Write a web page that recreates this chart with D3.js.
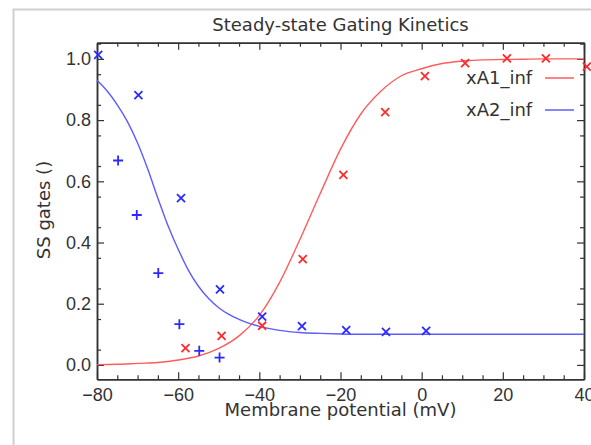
<!DOCTYPE html>
<html>
<head>
<meta charset="utf-8">
<script src="https://cdn.jsdelivr.net/npm/d3@7"></script>
<style>
  body { margin: 0; background: #fff; }
  svg { display: block; font-family: "DejaVu Sans", sans-serif; }
</style>
</head>
<body>
<div id="chart"></div>
<script>
// fitted curves
const v1 = [-80, -75, -70, -65, -60, -55, -50, -45, -40, -35, -30, -25, -20,
            -15, -10, -5, 0, 5, 10, 15, 20, 25, 30, 35, 40];
const xA1Inf = [0.001, 0.002, 0.005, 0.008, 0.016, 0.029, 0.054, 0.095, 0.162, 0.27, 0.41, 0.56, 0.705,
                0.82, 0.895, 0.945, 0.968, 0.985, 0.993, 0.997, 0.998, 0.999, 1.0, 1.0, 1.0];
const v2 = [-80, -77.5, -75, -72.5, -70, -67.5, -65, -62.5, -60, -57.5, -55, -52.5, -50,
            -47.5, -45, -42.5, -40, -35, -30, -25, -20, -15, 0, 20, 40];
const xA2Inf = [0.93, 0.895, 0.85, 0.795, 0.725, 0.64, 0.545, 0.455, 0.378, 0.31, 0.257, 0.217, 0.187,
                0.165, 0.149, 0.136, 0.126, 0.113, 0.106, 0.103, 0.101, 0.1, 0.1, 0.1, 0.1];

// measured points
const redCrossV = [-58.2, -49.3, -39.3, -29.3, -19.3, -9.0, 0.8, 10.7, 21.0, 30.6, 40.7];
const redCrossY = [0.055, 0.095, 0.128, 0.346, 0.621, 0.826, 0.944, 0.986, 1.002, 1.002, 0.975];
const blueCrossV = [-79.7, -69.8, -59.3, -49.7, -39.3, -29.5, -18.6, -8.8, 1.1];
const blueCrossY = [1.013, 0.882, 0.545, 0.247, 0.158, 0.127, 0.114, 0.108, 0.111];
const bluePlusV = [-74.8, -70.2, -64.9, -59.7, -54.8, -49.8];
const bluePlusY = [0.668, 0.49, 0.30, 0.133, 0.046, 0.024];

const xTicks = [-80, -60, -40, -20, 0, 20, 40];
const yTicks = [0.0, 0.2, 0.4, 0.6, 0.8, 1.0];
const seriesNames = ['xA1_inf', 'xA2_inf'];

const width = 591, height = 445;
const plotLeft = 97, plotRight = 584, plotTop = 42.7, plotBottom = 379.3;
const ink = '#333';
const redLine = '#ff5c5c', blueLine = '#5c5cff';

const svg = d3.select('#chart').append('svg')
    .attr('width', width)
    .attr('height', height);

// grey frame round the whole plot
svg.append('rect')
    .attr('x', 13.5).attr('y', 9.5)
    .attr('width', 620).attr('height', 500)
    .attr('fill', 'none')
    .attr('stroke', '#cfcfcf')
    .attr('stroke-width', 2);

const x = d3.scaleLinear().domain([-80, 40]).range([plotLeft, plotRight]);
const y = d3.scaleLinear().domain([-0.047, 1.053]).range([plotBottom, plotTop]);

const xMinor = d3.range(-80, 41, 5).filter(v => v % 20 !== 0);
const yMinor = d3.range(0.05, 1.06, 0.1).map(v => +v.toFixed(2)).filter(v => v < 1.053);

function styleAxis(g) {
    g.selectAll('path').attr('stroke', ink).attr('stroke-width', 1.5);
    g.selectAll('line').attr('stroke', ink).attr('stroke-width', 1.2);
    g.selectAll('text').attr('fill', ink).style('font-size', '18px');
}

// bottom
svg.append('g').attr('transform', `translate(0,${plotBottom})`)
    .call(d3.axisBottom(x).tickValues(xTicks).tickSize(-7).tickSizeOuter(0).tickPadding(9)
        .tickFormat(d3.format('d')))
    .call(styleAxis);
svg.append('g').attr('transform', `translate(0,${plotBottom})`)
    .call(d3.axisBottom(x).tickValues(xMinor).tickSize(-4).tickSizeOuter(0).tickFormat(''))
    .call(styleAxis);
// top
svg.append('g').attr('transform', `translate(0,${plotTop})`)
    .call(d3.axisTop(x).tickValues(xTicks).tickSize(-7).tickSizeOuter(0).tickFormat(''))
    .call(styleAxis);
svg.append('g').attr('transform', `translate(0,${plotTop})`)
    .call(d3.axisTop(x).tickValues(xMinor).tickSize(-4).tickSizeOuter(0).tickFormat(''))
    .call(styleAxis);
// left
svg.append('g').attr('transform', `translate(${plotLeft},0)`)
    .call(d3.axisLeft(y).tickValues(yTicks).tickSize(-7).tickSizeOuter(0).tickPadding(6)
        .tickFormat(d3.format('.1f')))
    .call(styleAxis);
svg.append('g').attr('transform', `translate(${plotLeft},0)`)
    .call(d3.axisLeft(y).tickValues(yMinor).tickSize(-4).tickSizeOuter(0).tickFormat(''))
    .call(styleAxis);
// right
svg.append('g').attr('transform', `translate(${plotRight},0)`)
    .call(d3.axisRight(y).tickValues(yTicks).tickSize(-7).tickSizeOuter(0).tickFormat(''))
    .call(styleAxis);
svg.append('g').attr('transform', `translate(${plotRight},0)`)
    .call(d3.axisRight(y).tickValues(yMinor).tickSize(-4).tickSizeOuter(0).tickFormat(''))
    .call(styleAxis);

// curves
const line = d3.line()
    .x(d => x(d[0]))
    .y(d => y(d[1]))
    .curve(d3.curveMonotoneX);

svg.append('path')
    .datum(v1.map((v, i) => [v, xA1Inf[i]]))
    .attr('d', line)
    .attr('fill', 'none')
    .attr('stroke', redLine)
    .attr('stroke-width', 1.4);

svg.append('path')
    .datum(v2.map((v, i) => [v, xA2Inf[i]]))
    .attr('d', line)
    .attr('fill', 'none')
    .attr('stroke', blueLine)
    .attr('stroke-width', 1.4);

// markers
const crossPath = 'M-4,-4L4,4M-4,4L4,-4';
const plusPath = 'M-5,0L5,0M0,-5L0,5';

function drawMarks(vs, ys, shape, color) {
    svg.append('g').selectAll('path')
        .data(vs.map((v, i) => [v, ys[i]]))
        .enter().append('path')
        .attr('transform', d => `translate(${x(d[0])},${y(d[1])})`)
        .attr('d', shape)
        .attr('fill', 'none')
        .attr('stroke', color)
        .attr('stroke-width', 1.8);
}
drawMarks(redCrossV, redCrossY, crossPath, '#ff2a2a');
drawMarks(blueCrossV, blueCrossY, crossPath, '#2a2aff');
drawMarks(bluePlusV, bluePlusY, plusPath, '#2a2aff');

// legend
const legend = svg.append('g');
[redLine, blueLine].forEach((c, i) => {
    const ly = 78 + i * 32;
    legend.append('text')
        .attr('x', 466).attr('y', ly + 6)
        .attr('fill', ink)
        .style('font-size', '18px')
        .text(seriesNames[i]);
    legend.append('line')
        .attr('x1', 545).attr('x2', 574)
        .attr('y1', ly).attr('y2', ly)
        .attr('stroke', c)
        .attr('stroke-width', 1.5);
});

// title and axis labels
svg.append('text')
    .attr('x', (plotLeft + plotRight) / 2).attr('y', 31)
    .attr('text-anchor', 'middle')
    .attr('fill', ink)
    .style('font-size', '18px')
    .text('Steady-state Gating Kinetics');

svg.append('text')
    .attr('x', (plotLeft + plotRight) / 2).attr('y', 416)
    .attr('text-anchor', 'middle')
    .attr('fill', ink)
    .style('font-size', '18px')
    .text('Membrane potential (mV)');

svg.append('text')
    .attr('transform', 'translate(50,210) rotate(-90)')
    .attr('text-anchor', 'middle')
    .attr('fill', ink)
    .style('font-size', '18px')
    .text('SS gates ()');
</script>
</body>
</html>
